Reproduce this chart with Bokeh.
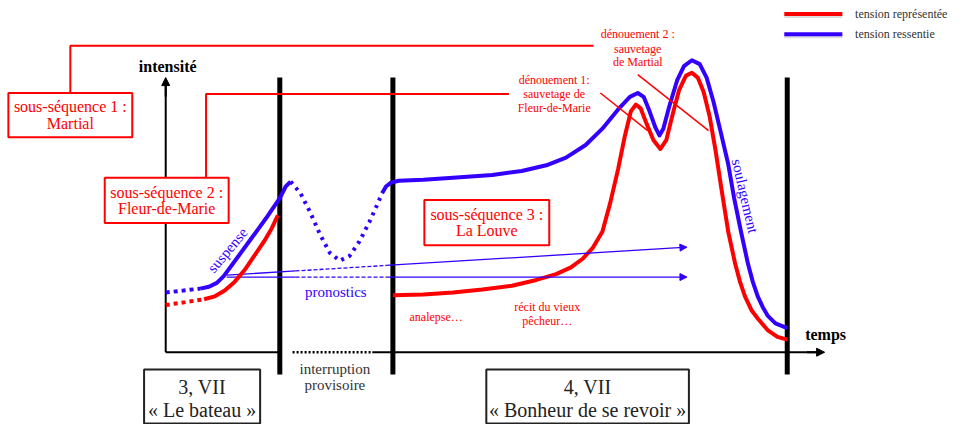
from bokeh.plotting import figure
from bokeh.models import Range1d, Arrow, NormalHead
from bokeh.core.properties import value
from bokeh.embed import file_html
from bokeh.resources import INLINE
import math

# ---------------- data (diagram units: x = temps, y = intensité) ----------------
RED = "#ff0000"
BLUE = "#3300ff"
FONT_NAME = "Liberation Serif"

# tension représentée (red)
red_lead_x = [168, 188, 207]
red_lead_y = [316, 313, 310]
red_a_x = [207, 218, 228, 238, 248, 258, 268, 276, 282]
red_a_y = [310, 307, 301, 292, 280, 265, 250, 236, 223]
red_b_x = [399, 430, 460, 490, 520, 545, 565, 580, 592, 602, 612, 620, 628, 635, 641, 646, 651, 657, 664, 671,
           677, 683, 690, 697, 703, 709, 715, 721, 727, 733, 740, 747, 752, 757, 764, 770, 780, 790, 800]
red_b_y = [306, 305, 303, 300, 296, 290, 284, 277, 268, 257, 240, 210, 175, 140, 115, 108, 112, 128, 145, 154,
           145, 120, 93, 78, 75, 80, 95, 120, 155, 195, 240, 273, 292, 307, 322, 330, 342, 349, 352]

# tension ressentie (blue)
blue_lead_x = [168, 186, 203]
blue_lead_y = [303, 301, 299]
blue_a_x = [203, 212, 220, 227, 240, 255, 270, 284, 290, 295]
blue_a_y = [299, 297, 293, 286, 268, 247, 226, 205, 193, 188]
blue_gap_x = [295, 305, 315, 325, 335, 345, 355, 365, 375, 383, 388]
blue_gap_y = [188, 200, 220, 243, 262, 270, 265, 250, 230, 212, 200]
blue_b_x = [388, 392, 397, 405, 430, 460, 500, 530, 555, 575, 595, 612, 628, 640, 648, 654, 660, 666, 670, 674,
            680, 688, 695, 703, 711, 718, 725, 732, 740, 746, 753, 760, 765, 770, 775, 780, 788, 800]
blue_b_y = [200, 193, 189, 187, 186, 184, 181, 177, 171, 163, 150, 133, 113, 100, 96, 100, 115, 132, 140, 133,
            110, 83, 68, 62, 66, 80, 105, 135, 170, 205, 240, 273, 292, 307, 318, 327, 335, 340]

# chapter separators (temps)
separators_x = [284, 399, 800]
separators_top = 80
separators_bottom = 388

# pronostics (start, end)
prono_x0 = [230, 230]
prono_y0 = [285, 287]
prono_x1 = [698, 698]
prono_y1 = [256, 287]

# red boxes (sub-sequences)
subseq_labels = [["sous-séquence 1 :", "Martial"],
                 ["sous-séquence 2 :", "Fleur-de-Marie"],
                 ["sous-séquence 3 :", "La Louve"]]
subseq_left = [8, 106, 431]
subseq_right = [134, 232, 558]
subseq_top = [96, 184, 207]
subseq_bottom = [142, 231, 254]

# chapter boxes
chap_labels = [["3, VII", "« Le bateau »"], ["4, VII", "« Bonheur de se revoir »"]]
chap_left = [146, 494]
chap_right = [264, 700]
chap_top = [383, 383]
chap_bottom = [439, 439]

# ---------------- figure ----------------
p = figure(width=950, height=424, x_range=Range1d(0, 966), y_range=Range1d(440, 0),
           output_backend="svg", toolbar_location=None, min_border=0)
p.axis.visible = False
p.grid.visible = False
p.outline_line_color = None
p.background_fill_color = "white"

def text(xs, ys, texts, size, color, align="center", bold=False, angle=0.0):
    kw = dict(x=xs, y=ys, text=texts, text_font=value(FONT_NAME), text_font_size=size, text_color=color,
              text_align=align, text_baseline="middle")
    if bold:
        kw["text_font_style"] = "bold"
    if angle:
        kw["angle"] = angle
    p.text(**kw)

# axes
p.line([168, 168], [365, 84], line_color="black", line_width=2)
p.add_layout(Arrow(end=NormalHead(size=8, fill_color="black", line_color="black"),
                   x_start=168, y_start=100, x_end=168, y_end=80, line_color="black", line_width=2))
p.line([168, 284], [365, 365], line_color="black", line_width=2)
p.line([297, 378], [365, 365], line_color="black", line_width=2.5, line_dash="2 2")
p.line([378, 832], [365, 365], line_color="black", line_width=2)
p.add_layout(Arrow(end=NormalHead(size=8, fill_color="black", line_color="black"),
                   x_start=820, y_start=365, x_end=838, y_end=365, line_color="black", line_width=2))
text([170], [68], ["intensité"], "16px", "black", bold=True)
text([839], [347], ["temps"], "16px", "black", bold=True)

# separators
p.segment(x0=separators_x, y0=[separators_top] * 3, x1=separators_x, y1=[separators_bottom] * 3,
          line_color="black", line_width=5)

# connectors of sub-sequences
p.line([71, 71, 603], [96, 47, 47], line_color=RED, line_width=2)
p.line([209, 209, 517], [184, 97, 97], line_color=RED, line_width=2)

# pronostics arrows
for x0, y0, x1, y1 in zip(prono_x0, prono_y0, prono_x1, prono_y1):
    def yat(x):
        return y0 + (y1 - y0) * (x - x0) / (x1 - x0)
    p.line([x0, 300], [y0, yat(300)], line_color=BLUE, line_width=1.3)
    p.line([300, 392], [yat(300), yat(392)], line_color=BLUE, line_width=1.3, line_dash="4 2")
    p.add_layout(Arrow(end=NormalHead(size=7, fill_color=BLUE, line_color=BLUE),
                       x_start=392, y_start=yat(392), x_end=x1, y_end=y1,
                       line_color=BLUE, line_width=1.3))

# curves
p.line(red_lead_x, red_lead_y, line_color=RED, line_width=4, line_dash="4 4")
p.line(red_a_x, red_a_y, line_color=RED, line_width=4, line_join="round")
p.line(red_b_x, red_b_y, line_color=RED, line_width=4, line_join="round")
p.line(blue_lead_x, blue_lead_y, line_color=BLUE, line_width=4, line_dash="4 4")
p.line(blue_a_x, blue_a_y, line_color=BLUE, line_width=4, line_join="round")
p.line(blue_gap_x, blue_gap_y, line_color=BLUE, line_width=4, line_dash="3 5")
p.line(blue_b_x, blue_b_y, line_color=BLUE, line_width=4, line_join="round")

# dénouement pointers
p.line([610, 658], [96, 135], line_color=RED, line_width=1.5)
p.line([648, 720], [77, 135], line_color=RED, line_width=1.5)

# red boxes
p.quad(left=subseq_left, right=subseq_right, top=subseq_top, bottom=subseq_bottom,
       fill_color="white", line_color=RED, line_width=2)
for lab, l, r, t, b in zip(subseq_labels, subseq_left, subseq_right, subseq_top, subseq_bottom):
    cx = (l + r) / 2
    cy = (t + b) / 2
    text([cx, cx], [cy - 8.5, cy + 8.5], lab, "16px", RED)

# chapter boxes
p.quad(left=chap_left, right=chap_right, top=chap_top, bottom=chap_bottom,
       fill_color="white", line_color="#222222", line_width=2)
for lab, l, r in zip(chap_labels, chap_left, chap_right):
    cx = (l + r) / 2
    text([cx, cx], [401, 425], lab, "20px", "#222222")

# annotations
text([340, 340], [382, 399], ["interruption", "provisoire"], "15px", "#333333")
text([341], [302], ["pronostics"], "15px", BLUE)
text([231], [259], ["suspense"], "15px", BLUE, angle=math.radians(50))
text([757], [203], ["soulagement"], "15px", BLUE, angle=math.radians(-77))
text([443], [328], ["analepse…"], "12px", RED)
text([556, 556], [318, 333], ["récit du vieux", "pêcheur…"], "12px", RED)
text([563, 563, 563], [82, 97, 112], ["dénouement 1:", "sauvetage de", "Fleur-de-Marie"], "12px", RED)
text([648, 648, 648], [35, 50, 64], ["dénouement 2 :", "sauvetage", "de Martial"], "12px", RED)

# legend
p.line([797, 856], [16, 16], line_color="#bbbbbb", line_width=4, alpha=0.5)
p.line([797, 856], [37, 37], line_color="#bbbbbb", line_width=4, alpha=0.5)
p.line([797, 856], [14, 14], line_color=RED, line_width=4)
p.line([797, 856], [35, 35], line_color=BLUE, line_width=4)
text([869, 869], [14, 35], ["tension représentée", "tension ressentie"], "12px", "#333333", align="left")

open("out.html", "w").write(file_html(p, INLINE))
